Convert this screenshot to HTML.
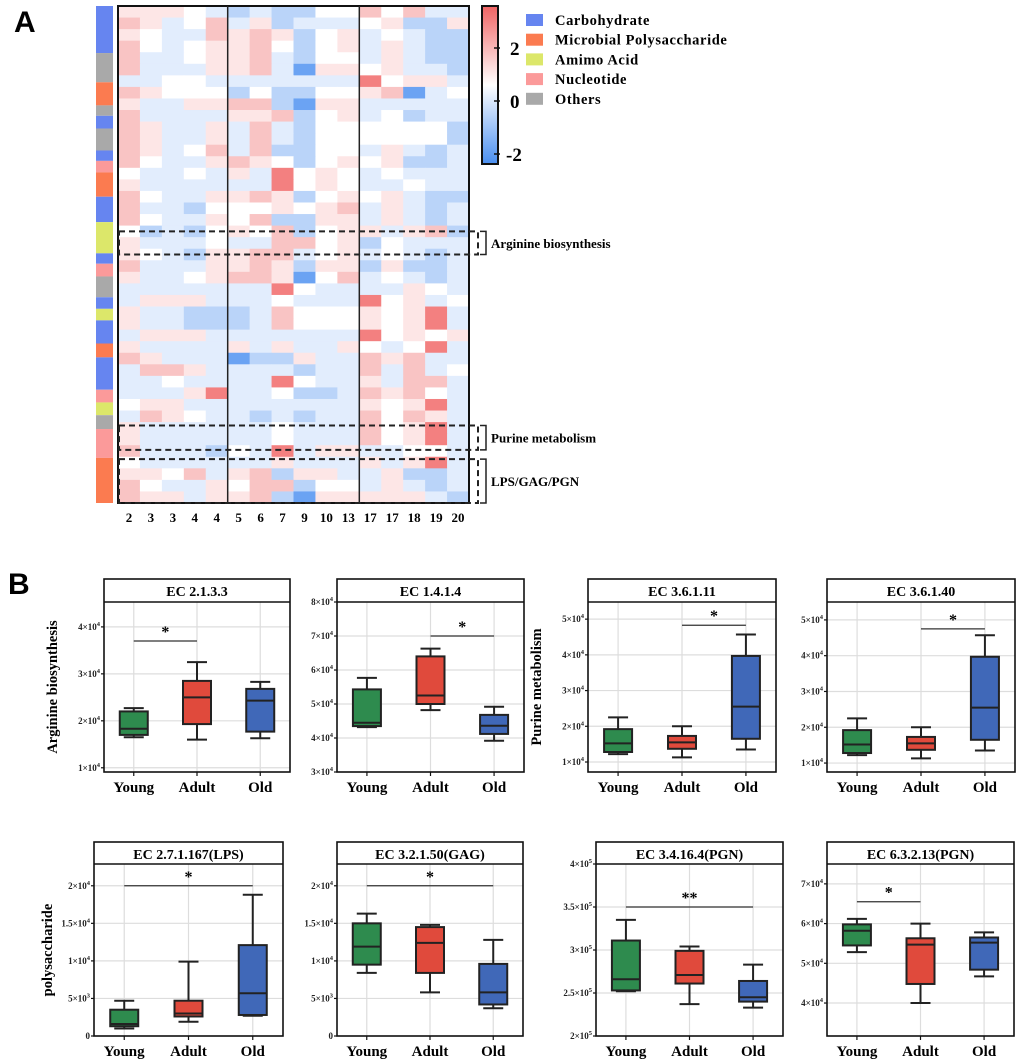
<!DOCTYPE html>
<html><head><meta charset="utf-8"><style>
body{margin:0;background:#fff}
svg{display:block;font-family:"Liberation Serif",serif}
</style></head><body>
<svg id="fig" width="1020" height="1062" viewBox="0 0 1020 1062" xmlns="http://www.w3.org/2000/svg">
<text x="14" y="32" font-family="Liberation Sans, sans-serif" font-weight="bold" font-size="30">A</text>
<text x="8" y="594" font-family="Liberation Sans, sans-serif" font-weight="bold" font-size="30">B</text>
<g id="heat"></g>
<g id="boxes"></g>
</svg>
<script>
const NS="http://www.w3.org/2000/svg";
function mk(p,tag,at){const e=document.createElementNS(NS,tag);for(const k in at)e.setAttribute(k,at[k]);p.appendChild(e);return e;}

// ---------- Heatmap data ----------
const heatCols=["2","3","3","4","4","5","6","7","9","10","13","17","17","18","19","20"];
const heatRows=[
[1,1,1,0,-1,-2,-1,-2,-2,0,0,2,0,2,-1,-1],
[2,1,-1,0,2,-1,1,-2,-1,-1,-1,0,1,-2,-2,1],
[1,0,-1,-1,2,1,2,1,-2,0,1,-1,0,-1,-2,-2],
[2,0,-1,0,1,1,2,0,-2,0,1,-1,1,-1,-2,-2],
[2,-1,-1,0,1,1,2,-1,-2,0,0,-1,1,-1,-2,-2],
[2,-1,-1,-1,1,1,2,-1,-3,1,1,0,1,-1,-1,-2],
[-1,-1,0,0,-1,-1,-1,-1,-1,-1,-1,3,0,1,1,-1],
[2,1,0,0,0,-2,0,-2,-2,0,0,1,2,-3,-1,0],
[1,-1,-1,1,1,2,2,-2,-3,1,1,-1,-1,-1,-1,-1],
[2,-1,-1,-1,-1,1,1,2,-2,0,1,-1,0,-2,-1,-1],
[2,1,-1,-1,1,-1,2,-1,-2,0,0,0,0,0,0,-2],
[2,1,-1,-1,1,-1,2,-1,-2,0,0,0,0,0,0,-2],
[2,1,-1,0,2,-1,2,-2,-2,0,0,-1,1,-1,-2,-1],
[2,0,-1,-1,1,2,1,0,-2,0,1,0,1,-2,-2,-1],
[0,-1,-1,0,-1,1,-1,3,0,1,0,-1,0,-1,-1,-1],
[1,-1,-1,-1,-1,-1,-1,3,0,1,0,-1,-1,0,-1,-1],
[2,0,-1,-1,1,1,2,1,-2,0,1,0,1,-1,-2,-2],
[2,-1,-1,-2,0,0,0,1,0,1,2,-1,1,-1,-2,-1],
[2,0,-1,-1,1,0,2,-2,-2,1,1,-1,1,-1,-2,-1],
[0,-2,-1,-2,0,1,0,2,-2,0,1,1,-1,1,2,-2],
[1,-1,-1,-1,0,-1,-1,2,2,0,1,-2,0,-1,-1,-1],
[1,0,-1,-2,1,1,2,2,-1,0,1,-1,0,-1,-2,-1],
[2,-1,-1,-1,1,1,2,1,-2,1,1,-2,1,-2,-2,-1],
[1,-1,-1,0,1,2,2,1,-3,0,2,-1,0,-1,-2,-1],
[-1,-1,-1,-1,-1,-1,-1,3,0,-1,-1,-1,-1,1,0,-1],
[-1,1,1,1,-1,-1,-1,0,-1,-1,-1,3,0,1,-1,0],
[1,-1,-1,-2,-2,-2,-1,2,0,0,0,1,0,1,3,-1],
[1,-1,-1,-2,-2,-2,-1,2,0,0,0,1,0,1,3,-1],
[-1,1,1,1,-1,-1,-1,-1,-1,-1,-1,3,0,1,0,1],
[1,-1,-1,-1,-1,1,-1,1,-1,-1,1,0,-1,0,3,-1],
[2,1,-1,-1,-1,-3,-2,-2,1,-1,-1,2,1,2,-1,-1],
[-1,2,2,1,-1,-1,-1,-1,-2,-1,-1,2,-1,2,-1,0],
[-1,-1,0,-1,-1,-1,-1,3,0,-1,-1,1,-1,2,2,-1],
[-1,-1,-1,1,3,-1,-1,0,-2,-2,-1,2,1,2,0,-1],
[0,1,1,-1,-1,-1,-1,-1,-1,-1,-1,1,0,1,3,-1],
[-1,2,1,0,-1,-1,-2,-1,-2,-1,-1,2,0,2,1,-1],
[1,-1,-1,-1,-1,-1,-1,0,-1,-1,-1,2,0,1,3,-1],
[1,-1,-1,-1,-1,-1,-1,0,-1,-1,-1,2,0,1,3,-1],
[2,-1,-1,-1,-2,0,-1,3,-1,1,1,-1,-1,0,0,-1],
[0,-1,-1,-1,-1,-1,-1,1,-1,-1,-1,1,-1,1,3,-1],
[1,1,0,2,-1,1,2,-2,1,1,-1,-1,1,-2,-2,-1],
[2,0,-1,-1,1,0,2,2,-2,0,0,-1,1,-1,-2,-1],
[2,1,1,-1,1,1,2,-2,-3,1,1,1,1,1,-1,-2]
];
// category annotation: [category, end position in row units]
const catNames=["Carbohydrate","Microbial Polysaccharide","Amimo Acid","Nucleotide","Others"];
const catColors=["#6685f0","#fb7b50","#dce76a","#fb9a9a","#a9a9a9"];
const catSegCat=[0,4,1,4,0,4,0,3,1,0,2,0,3,4,0,2,0,1,0,3,2,4,3,1];
const catSegEnd=[4.07,6.6,8.6,9.5,10.6,12.5,13.4,14.4,16.5,18.7,21.4,22.3,23.4,25.2,26.2,27.2,29.2,30.4,33.2,34.3,35.4,36.6,39.1,43];
const cbTicks=[2,0,-2];
const groupSeps=[5,11];
const boxesRows=[[19.5,21.5,"Arginine biosynthesis"],[36.3,38.4,"Purine metabolism"],[39.2,43,"LPS/GAG/PGN"]];

const H=document.getElementById('heat');
const hx0=118,hy0=6,cw=(469-118)/heatCols.length,rh=(503-6)/heatRows.length;
const colX=i=>hx0+i*cw, rowY=r=>hy0+r*rh;
function heatColor(z){const a=Math.min(3,Math.abs(z));const lo=Math.floor(a),f=a-lo;const T=[0,0.16,0.38,0.82,0.82];
 const t=T[lo]+(T[lo+1]-T[lo])*f;const end=z>=0?[240,100,100]:[74,143,240];
 const c=end.map(v=>Math.round(255+(v-255)*t));return `rgb(${c[0]},${c[1]},${c[2]})`;}
heatRows.forEach((row,r)=>row.forEach((z,c)=>{
 const e=mk(H,'rect',{x:colX(c),y:rowY(r),width:cw+0.4,height:rh+0.4,fill:heatColor(z)});
 
 
}));
mk(H,'rect',{x:hx0,y:hy0,width:351,height:497,fill:'none',stroke:'#111','stroke-width':2});
groupSeps.forEach(s=>{const l=mk(H,'line',{x1:colX(s),x2:colX(s),y1:hy0,y2:503,stroke:'#222','stroke-width':1.5});
 
 });
heatCols.forEach((c,i)=>{const t=mk(H,'text',{x:colX(i)+cw/2,y:522,'text-anchor':'middle','font-weight':'bold','font-size':13});t.textContent=c;
 
 });
let prev=0;
catSegEnd.forEach((e,i)=>{const r=mk(H,'rect',{x:96,y:rowY(prev),width:17,height:(e-prev)*rh,fill:catColors[catSegCat[i]]});prev=e;
 
 });
boxesRows.forEach(b=>{const y1=rowY(b[0]),y2=rowY(b[1]);
 mk(H,'rect',{x:119,y:y1,width:359,height:y2-y1,fill:'none',stroke:'#222','stroke-width':2,'stroke-dasharray':'6,4'});
 mk(H,'path',{d:`M480,${y1}H486V${y2}H480`,fill:'none',stroke:'#222','stroke-width':1.5});
 const t=mk(H,'text',{x:491,y:(y1+y2)/2+5,'font-weight':'bold','font-size':13});t.textContent=b[2];
 
 });
// colorbar
const defs=mk(H,'defs',{});const lg=mk(defs,'linearGradient',{id:'cbg',x1:0,y1:0,x2:0,y2:1});
mk(lg,'stop',{offset:'0','stop-color':'#f06464'});mk(lg,'stop',{offset:'0.5','stop-color':'#ffffff'});mk(lg,'stop',{offset:'1','stop-color':'#4a8ff0'});
const cb=mk(H,'rect',{x:482,y:6,width:16,height:158,fill:'url(#cbg)',stroke:'#111','stroke-width':2});


const cbY=v=>101-v*26.5;
cbTicks.forEach(v=>{mk(H,'line',{x1:494,x2:500,y1:cbY(v),y2:cbY(v),stroke:'#111','stroke-width':1.5});
 const t=mk(H,'text',{x:v<0?506:510,y:cbY(v)+7,'font-weight':'bold','font-size':19});t.textContent=String(v);
 
 });
catNames.forEach((n,i)=>{const y=20+i*19.7;
 const s=mk(H,'rect',{x:526,y:y-6,width:17,height:12,fill:catColors[i]});
 
 
 const t=mk(H,'text',{x:555,y:y+5,'font-weight':'bold','font-size':14.5,'letter-spacing':'0.6'});t.textContent=n;
 
 });

// ---------- Boxplot data ----------
const groups=["Young","Adult","Old"];
const groupColors=["#2e8b4e","#e04a3c","#4068b8"];
const titles=["EC 2.1.3.3","EC 1.4.1.4","EC 3.6.1.11","EC 3.6.1.40","EC 2.7.1.167(LPS)","EC 3.2.1.50(GAG)","EC 3.4.16.4(PGN)","EC 6.3.2.13(PGN)"];
// stats per panel per group: [min,q1,median,q3,max] (units as tick labels)
const stats=[
 [[1.65,1.7,1.83,2.2,2.27],[1.6,1.93,2.5,2.85,3.25],[1.63,1.77,2.43,2.68,2.83]],
 [[4.32,4.35,4.45,5.43,5.77],[4.82,5.0,5.25,6.4,6.63],[3.92,4.12,4.36,4.68,4.92]],
 [[1.22,1.28,1.52,1.92,2.25],[1.13,1.37,1.55,1.73,2.0],[1.35,1.65,2.55,3.97,4.57]],
 [[1.22,1.28,1.52,1.92,2.25],[1.13,1.37,1.55,1.73,2.0],[1.35,1.65,2.55,3.97,4.57]],
 [[0.1,0.13,0.16,0.35,0.47],[0.19,0.26,0.3,0.47,0.99],[0.27,0.28,0.57,1.21,1.88]],
 [[0.84,0.95,1.19,1.5,1.63],[0.58,0.84,1.24,1.45,1.48],[0.37,0.42,0.58,0.96,1.28]],
 [[2.52,2.53,2.66,3.11,3.35],[2.37,2.61,2.71,2.99,3.04],[2.33,2.4,2.45,2.64,2.83]],
 [[5.28,5.45,5.82,5.98,6.12],[4.0,4.48,5.47,5.63,6.0],[4.67,4.84,5.52,5.65,5.78]]
];
const domains=[[0.91,4.53],[3,8],[0.72,5.48],[0.75,5.5],[0,2.29],[0,2.29],[2,4],[3.17,7.5]];
const tickVals=[[1,2,3,4],[3,4,5,6,7,8],[1,2,3,4,5],[1,2,3,4,5],[0,0.5,1,1.5,2],[0,0.5,1,1.5,2],[2,2.5,3,3.5,4],[4,5,6,7]];
const tickMant=[["1","2","3","4"],["3","4","5","6","7","8"],["1","2","3","4","5"],["1","2","3","4","5"],["0","5","1","1.5","2"],["0","5","1","1.5","2"],["2","2.5","3","3.5","4"],["4","5","6","7"]];
const tickExp=[["4","4","4","4"],["4","4","4","4","4","4"],["4","4","4","4","4"],["4","4","4","4","4"],["","3","4","4","4"],["","3","4","4","4"],["5","5","5","5","5"],["4","4","4","4"]];
const sigFrom=[0,1,1,1,0,0,0,0], sigTo=[1,2,2,2,2,2,2,1], sigY=[3.7,7.0,4.83,4.75,2.0,2.0,3.5,6.55], sigMark=["*","*","*","*","*","*","**","*"];
const yTitles=["Arginine biosynthesis","","Purine metabolism","","polysaccharide","","",""];

const layout=[[104,290,579,602,772],[337,524,579,602,772],[588,776,579,602,772],[827,1015,579,602,772],
 [94,283,842,864,1036],[337,523,842,864,1036],[596,783,842,864,1036],[827,1014,842,864,1036]];
const B=document.getElementById('boxes');
titles.forEach((title,p)=>{
 const [x0,x1,ht,pt,pb]=layout[p];const [d0,d1]=domains[p];
 const g=mk(B,'g',{});
 
 
 const ys=v=>pb-(v-d0)/(d1-d0)*(pb-pt);
 const xs=i=>x0+(x1-x0)*(0.16+0.34*i);
 tickVals[p].forEach(v=>mk(g,'line',{x1:x0,x2:x1,y1:ys(v),y2:ys(v),stroke:'#ddd','stroke-width':1.2}));
 groups.forEach((_,i)=>mk(g,'line',{x1:xs(i),x2:xs(i),y1:pt,y2:pb,stroke:'#ddd','stroke-width':1.2}));
 mk(g,'rect',{x:x0,y:ht,width:x1-x0,height:pb-ht,fill:'none',stroke:'#111','stroke-width':1.6});
 mk(g,'line',{x1:x0,x2:x1,y1:pt,y2:pt,stroke:'#111','stroke-width':1.6});
 const tt=mk(g,'text',{x:(x0+x1)/2,y:ht+17,'text-anchor':'middle','font-weight':'bold','font-size':14});tt.textContent=title;
 
 
 tickVals[p].forEach((v,k)=>{const y=ys(v);mk(g,'line',{x1:x0-3,x2:x0,y1:y,y2:y,stroke:'#111','stroke-width':1.2});
  const t=mk(g,'text',{x:x0-4,y:y+3,'text-anchor':'end','font-weight':'bold','font-size':9,fill:'#222'});
  
  
  if(tickExp[p][k]===''){t.textContent=tickMant[p][k];}
  else{t.textContent=tickMant[p][k]+"×10";const s=mk(t,'tspan',{dy:-4,'font-size':6.5});s.textContent=tickExp[p][k];}
 });
 groups.forEach((gname,i)=>{mk(g,'line',{x1:xs(i),x2:xs(i),y1:pb,y2:pb+4,stroke:'#111','stroke-width':1.2});
  const t=mk(g,'text',{x:xs(i),y:pb+20,'text-anchor':'middle','font-weight':'bold','font-size':15});t.textContent=gname;
  
  });
 stats[p].forEach((s,i)=>{const cx=xs(i),bw=28,cap=10;
  const bg=mk(g,'g',{});
  
  
  mk(bg,'line',{x1:cx,x2:cx,y1:ys(s[0]),y2:ys(s[4]),stroke:'#222','stroke-width':2});
  mk(bg,'line',{x1:cx-cap,x2:cx+cap,y1:ys(s[0]),y2:ys(s[0]),stroke:'#222','stroke-width':2});
  mk(bg,'line',{x1:cx-cap,x2:cx+cap,y1:ys(s[4]),y2:ys(s[4]),stroke:'#222','stroke-width':2});
  mk(bg,'rect',{x:cx-bw/2,y:ys(s[3]),width:bw,height:ys(s[1])-ys(s[3]),fill:groupColors[i],stroke:'#222','stroke-width':2});
  mk(bg,'line',{x1:cx-bw/2,x2:cx+bw/2,y1:ys(s[2]),y2:ys(s[2]),stroke:'#222','stroke-width':2});
 });
 const sy=ys(sigY[p]);
 const sl=mk(g,'line',{x1:xs(sigFrom[p]),x2:xs(sigTo[p]),y1:sy,y2:sy,stroke:'#333','stroke-width':1.3});
 
 
 const st=mk(g,'text',{x:(xs(sigFrom[p])+xs(sigTo[p]))/2,y:sy-4,'text-anchor':'middle','font-weight':'bold','font-size':16});st.textContent=sigMark[p];
 
 
 if(yTitles[p]){const lx=x0-(p===4?42:47);const t=mk(g,'text',{x:lx,y:(pt+pb)/2,'text-anchor':'middle','font-weight':'bold','font-size':14.5,transform:`rotate(-90 ${lx} ${(pt+pb)/2})`});t.textContent=yTitles[p];
  
  }
});
</script>
</body></html>
